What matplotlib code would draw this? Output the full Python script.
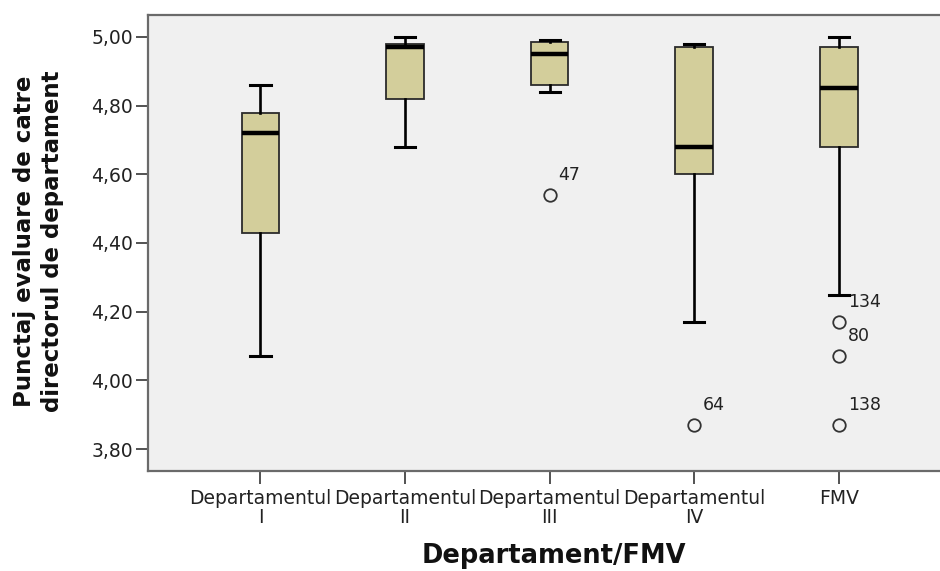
import matplotlib
matplotlib.use('Agg')
import matplotlib.pyplot as plt
from matplotlib.ticker import FixedLocator, FuncFormatter

# ---- data ----
categories = ['Departamentul\nI', 'Departamentul\nII', 'Departamentul\nIII',
              'Departamentul\nIV', 'FMV']
whisker_low = [4.07, 4.68, 4.84, 4.17, 4.25]
q1 = [4.43, 4.82, 4.86, 4.60, 4.68]
median = [4.72, 4.97, 4.95, 4.68, 4.85]
q3 = [4.78, 4.98, 4.985, 4.97, 4.97]
whisker_high = [4.86, 5.00, 4.99, 4.98, 5.00]
outlier_values = [[], [], [4.54], [3.87], [4.17, 4.07, 3.87]]
outlier_ids = [[], [], ['47'], ['64'], ['134', '80', '138']]
y_ticks = [3.80, 4.00, 4.20, 4.40, 4.60, 4.80, 5.00]
y_label = 'Punctaj evaluare de catre\ndirectorul de departament'
x_label = 'Departament/FMV'

plt.rcParams['font.family'] = ['DejaVu Sans']

fig = plt.figure(figsize=(9.4, 5.71), dpi=100)
W, H = 940, 571
ax = fig.add_axes([148 / W, 1 - 471 / H, (W - 148) / W + 0.01, (471 - 15) / H])
ax.set_facecolor('#f0f0f0')

positions = list(range(1, len(categories) + 1))
stats = []
for i in range(len(categories)):
    stats.append(dict(med=median[i], q1=q1[i], q3=q3[i],
                      whislo=whisker_low[i], whishi=whisker_high[i],
                      fliers=outlier_values[i]))

ax.bxp(stats, positions=positions, widths=0.26, capwidths=0.14,
       patch_artist=True, showfliers=True,
       boxprops=dict(facecolor='#d3ce9b', edgecolor='#2b2b2b', linewidth=1.3),
       medianprops=dict(color='black', linewidth=3.2, solid_capstyle='butt'),
       whiskerprops=dict(color='black', linewidth=1.9),
       capprops=dict(color='black', linewidth=2.2),
       flierprops=dict(marker='o', markerfacecolor='none', markeredgecolor='#333333',
                       markersize=9, markeredgewidth=1.3))

for i, (vals, ids) in enumerate(zip(outlier_values, outlier_ids)):
    for v, lab in zip(vals, ids):
        ax.annotate(lab, xy=(positions[i], v), xytext=(6.5, 14.5),
                    textcoords='offset points', ha='left', va='center',
                    fontsize=12.5, color='#222222')

ax.set_xlim(0.222, 5.70 + 0.01 * W / 144.6)
ax.set_ylim(3.736, 5.064)
ax.yaxis.set_major_locator(FixedLocator(y_ticks))
ax.yaxis.set_major_formatter(FuncFormatter(lambda v, p: f'{v:.2f}'.replace('.', ',')))
ax.set_xticks(positions)
ax.set_xticklabels(categories, linespacing=1.0)

ax.tick_params(axis='y', direction='out', length=9, width=1.3, color='#444444',
               labelsize=13.5, pad=2, labelcolor='#222222')
ax.tick_params(axis='x', direction='out', length=9, width=1.3, color='#444444',
               labelsize=13.5, pad=4, labelcolor='#222222')

for s in ax.spines.values():
    s.set_color('#6a6a6a')
    s.set_linewidth(1.6)

ax.set_xlabel(x_label, fontsize=18.5, fontweight='bold', color='#111111')
ax.xaxis.set_label_coords((549.5 - 148) / (W - 148), (471 - 556) / 456)
ax.xaxis.label.set_va('center')

ax.set_ylabel(y_label, fontsize=16.5, fontweight='bold', color='#111111',
              linespacing=1.3, ha='center')
ax.yaxis.set_label_coords((40 - 148) / (W - 148), (471 - 241) / 456)
ax.yaxis.label.set_va('center')

fig.savefig('out.png', dpi=100, facecolor='white')
